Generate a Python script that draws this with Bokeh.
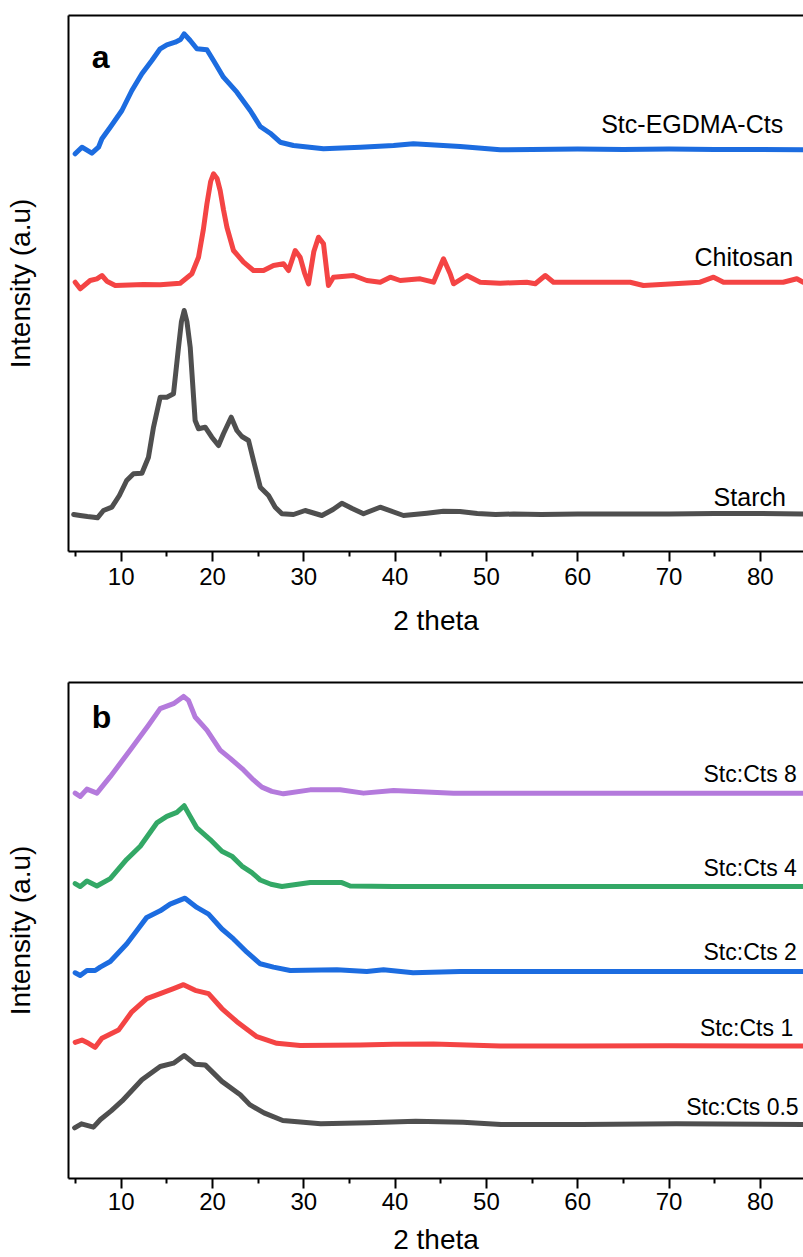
from bokeh.plotting import figure
from bokeh.models import Range1d, FixedTicker, LinearAxis, Label
from bokeh.layouts import column
from bokeh.embed import file_html
from bokeh.resources import INLINE

# ---------------- data: panel a ----------------
tt_egdma = [4.96, 5.7, 6.79, 7.52, 7.89, 8.8, 10.08, 11.17, 12.27, 13.36, 14.27, 15.0, 15.92,
            16.5, 16.9, 17.56, 18.29, 19.39, 20.11, 21.2, 22.67, 24.13, 25.23, 26.32, 27.42, 28.87,
            32.16, 36.2, 39.83, 42.0, 47.13, 51.5, 55, 60, 65, 70, 75, 80, 84.7]
int_egdma = [397.7, 404.3, 398.3, 404.3, 412.7, 424.3, 441, 461, 477.7, 491, 502.7, 506.7, 509.3,
             512, 517.7, 511, 502.7, 501.7, 491, 474.3, 459.3, 441, 425, 418.3, 409.3, 406,
             402.7, 404.3, 406, 407.7, 405, 401.7, 402, 402.5, 402, 402.5, 402, 402, 401.7]

tt_chitosan = [4.96, 5.51, 6.6, 7.34, 7.89, 8.43, 9.35, 12.45, 14.27, 16.46, 17.74, 18.47, 19.0,
               19.39, 19.8, 20.11, 20.5, 20.84, 21.2, 21.58, 22.3, 23.4, 24.49, 25.59, 26.68,
               27.78, 28.33, 29.06, 29.6, 30.1, 30.52, 31.1, 31.61, 32.16, 32.7, 33.25, 35.44,
               36.9, 38.37, 39.47, 40.56, 42.75, 44.21, 44.8, 45.3, 46.03, 46.4, 47.86, 49.32,
               51.5, 54.42, 55.35, 56.45, 57.35, 61.0, 65.75, 67.2, 73.4, 74.88, 75.97, 82.5,
               84.0, 84.7]
int_chitosan = [269.3, 262.7, 271, 272.7, 276, 270.3, 266, 267, 266.7, 268.3, 277.7, 294.3, 322,
                347.7, 370, 377.7, 373, 361, 342, 324.3, 301, 289.3, 281, 281, 286,
                287.7, 281, 301, 294.3, 278, 267.7, 300, 314.3, 307.7, 266, 274.3, 276,
                271, 269.3, 274.3, 271, 272.7, 269.3, 282, 292.7, 277.7, 267.7, 276, 269.3,
                268.3, 269.3, 267.7, 276, 269.3, 269.3, 269.3, 266, 269.3, 274.3, 269.3, 269.3,
                272.7, 269.3]

tt_starch = [4.8, 5.5, 6.3, 7.0, 7.4, 8.06, 8.98, 9.8, 10.6, 11.35, 12.27, 12.99, 13.54, 14.27,
             15.0, 15.73, 16.28, 16.6, 16.9, 17.2, 17.56, 18.1, 18.47, 19.2, 19.93, 20.66, 21.2,
             22.05, 22.67, 23.22, 23.95, 24.49, 25.23, 26.14, 26.87, 27.6, 28.87, 30.15, 31.98,
             33.2, 34.17, 35.3, 36.54, 38.36, 40.92, 43.48, 45.3, 47.1, 49, 51, 53, 56, 60, 65,
             70, 75, 80, 84.7]
int_starch = [37, 36, 35, 34.3, 33.7, 41, 44.3, 56, 71, 77.7, 78.3, 94.3, 124.3, 154.3,
              154.3, 157.7, 204.3, 230, 241, 230, 204.3, 131, 122.7, 124.3, 114.3, 106, 117.7,
              134.3, 121, 115, 111, 91, 64.3, 56, 44.3, 37.7, 37, 41, 36,
              42, 48.3, 43, 37.7, 44.3, 36, 38.3, 40.3, 40, 38, 37, 37.5, 37, 37.5, 37.5,
              37.5, 38, 38, 37.5]

# ---------------- data: panel b ----------------
tt_r8 = [4.96, 5.51, 6.25, 7.34, 8.8, 10.99, 12.99, 14.27, 15.73, 16.83, 17.37, 18.1, 19.39,
         20.84, 21.94, 23.4, 24.49, 25.41, 26.5, 27.78, 30.7, 33.98, 36.54, 39.83, 46.4, 55, 65,
         75, 84.7]
int_r8 = [387.7, 384.3, 391.7, 387.7, 404.3, 431, 456, 472.7, 477.7, 485, 481, 464.3, 451,
          431, 422.7, 411, 401, 393.7, 389.5, 387, 391, 391, 387.7, 390.3, 387.7, 387.5, 387.5,
          387.5, 387.5]

tt_r4 = [4.96, 5.51, 6.25, 7.34, 8.8, 10.6, 12.09, 13.9, 15.0, 16.1, 16.9, 17.56, 18.29, 19.75,
         21.03, 22.12, 23.22, 24.31, 25.23, 26.4, 27.6, 30.7, 34.17, 35.08, 39.83, 47.13, 60,
         70, 84.7]
int_r4 = [296.7, 293.7, 299.3, 294.3, 301.7, 321, 334.3, 357.7, 364.3, 368.3, 375, 364.3, 352.7,
          341, 329.3, 324.3, 314.3, 307.7, 300.3, 296, 293.7, 297.7, 297.7, 294.3, 293.7, 293.7,
          293.7, 293.7, 293.7]

tt_r2 = [4.96, 5.51, 6.25, 7.15, 7.7, 8.8, 10.6, 11.7, 12.8, 14.27, 15.36, 16.99, 18.29, 19.57,
         21.03, 22.3, 23.77, 25.23, 26.68, 28.51, 33.62, 36.9, 38.73, 41.97, 47.13, 60, 70, 84.7]
int_r2 = [207, 204.3, 209.3, 209.3, 212.7, 218.3, 236, 249.3, 262.7, 269.3, 276, 282, 272.7,
          266, 251, 241, 227.7, 216, 212.7, 209.3, 210, 208.3, 210, 207, 208.3, 208.3, 208.3,
          208.3]

tt_r1 = [4.96, 5.7, 6.42, 7.15, 7.89, 9.71, 11.17, 12.8, 14.27, 15.73, 16.83, 18.1, 19.57, 21.03,
         22.67, 24.86, 27.05, 29.6, 36.17, 39.83, 44.2, 51.5, 60, 70, 84.7]
int_r1 = [137, 139.3, 136, 132, 141, 149.3, 167.7, 181, 186, 191, 195, 189.3, 186, 171,
          157.7, 142.7, 136, 133.7, 134.3, 135, 135.3, 133.3, 133.3, 133.5, 133.3]

tt_r05 = [4.9, 5.65, 6.96, 7.73, 8.9, 10.1, 12.27, 14.27, 15.73, 16.9, 18.1, 19.2, 21.03, 23.04,
          24.08, 25.64, 27.7, 31.86, 37.04, 42.25, 47.44, 51.6, 60.4, 70.8, 84.7]
int_r05 = [51, 55, 51.7, 59.3, 68, 78, 99.3, 112.7, 116, 123.7, 115, 114.3, 97.7, 84.3,
           74.3, 66, 58.3, 55, 56, 57.7, 56.7, 54.3, 54.3, 55, 54.3]

x_major_ticks = [10, 20, 30, 40, 50, 60, 70, 80]
x_minor_ticks = [5, 15, 25, 35, 45, 55, 65, 75, 85]

series_a = [("Starch", tt_starch, int_starch, "#4f4f4f"),
            ("Chitosan", tt_chitosan, int_chitosan, "#f44444"),
            ("Stc-EGDMA-Cts", tt_egdma, int_egdma, "#1c6ce0")]
labels_a = [("Stc-EGDMA-Cts", 82.5, 428), ("Chitosan", 83.6, 295), ("Starch", 82.8, 55)]

series_b = [("Stc:Cts 0.5", tt_r05, int_r05, "#4f4f4f"),
            ("Stc:Cts 1", tt_r1, int_r1, "#f44444"),
            ("Stc:Cts 2", tt_r2, int_r2, "#1c6ce0"),
            ("Stc:Cts 4", tt_r4, int_r4, "#33a866"),
            ("Stc:Cts 8", tt_r8, int_r8, "#b47adc")]
labels_b = [("Stc:Cts 8", 84.0, 407), ("Stc:Cts 4", 84.0, 312), ("Stc:Cts 2", 84.0, 228),
            ("Stc:Cts 1", 83.6, 151), ("Stc:Cts 0.5", 84.2, 72)]

FONT = "Liberation Sans"
XMIN, XMAX = 4.23, 84.73


def make_panel(height, top, bottom, ymax, series, labels, letter, letter_y,
               label_size, tick_standoff, axis_standoff):
    p = figure(width=803, height=height,
               x_range=Range1d(XMIN, XMAX), y_range=Range1d(0, ymax),
               output_backend="svg", toolbar_location=None,
               x_axis_location=None, y_axis_location=None,
               min_border_left=68, min_border_right=0,
               min_border_top=top, min_border_bottom=bottom,
               outline_line_color=None, background_fill_color="white",
               border_fill_color="white")
    p.grid.visible = False

    xa = LinearAxis(ticker=FixedTicker(ticks=x_major_ticks, minor_ticks=x_minor_ticks))
    xa.axis_label = "2 theta"
    xa.axis_label_text_font = FONT
    xa.axis_label_text_font_size = "28px"
    xa.axis_label_text_font_style = "normal"
    xa.axis_label_text_color = "black"
    xa.axis_label_standoff = axis_standoff
    xa.major_label_text_font = FONT
    xa.major_label_text_font_size = "24px"
    xa.major_label_text_color = "black"
    xa.major_label_standoff = tick_standoff
    xa.axis_line_width = 2
    xa.axis_line_color = "black"
    xa.major_tick_line_width = 2
    xa.major_tick_line_color = "black"
    xa.minor_tick_line_width = 2
    xa.minor_tick_line_color = "black"
    xa.major_tick_in = 0
    xa.major_tick_out = 10
    xa.minor_tick_in = 0
    xa.minor_tick_out = 5
    p.add_layout(xa, "below")

    ya = LinearAxis(ticker=FixedTicker(ticks=[]))
    ya.axis_label = "Intensity (a.u)"
    ya.axis_label_text_font = FONT
    ya.axis_label_text_font_size = "28px"
    ya.axis_label_text_font_style = "normal"
    ya.axis_label_text_color = "black"
    ya.axis_label_standoff = 33
    ya.axis_line_width = 2
    ya.axis_line_color = "black"
    ya.major_tick_line_color = None
    ya.minor_tick_line_color = None
    ya.major_label_text_font_size = "0px"
    p.add_layout(ya, "left")

    ta = LinearAxis(ticker=FixedTicker(ticks=[]))
    ta.axis_line_width = 2
    ta.axis_line_color = "black"
    ta.major_tick_line_color = None
    ta.minor_tick_line_color = None
    ta.major_label_text_font_size = "0px"
    p.add_layout(ta, "above")

    for name, xs, ys, color in series:
        p.line(xs, ys, line_color=color, line_width=5, line_join="round", line_cap="round")

    for text, lx, ly in labels:
        p.add_layout(Label(x=lx, y=ly, text=text, text_align="right",
                           text_baseline="alphabetic", text_font=FONT,
                           text_font_size=label_size, text_color="black"))

    p.add_layout(Label(x=6.79, y=letter_y, text=letter, text_align="left",
                       text_baseline="alphabetic", text_font=FONT,
                       text_font_size="32px", text_font_style="bold", text_color="black"))
    return p


pa = make_panel(height=643, top=15, bottom=92, ymax=536, series=series_a, labels=labels_a,
                letter="a", letter_y=495, label_size="25px", tick_standoff=6, axis_standoff=17)
pb = make_panel(height=614, top=39, bottom=76, ymax=499, series=series_b, labels=labels_b,
                letter="b", letter_y=464, label_size="23px", tick_standoff=4, axis_standoff=11)

layout = column(pa, pb, spacing=0)
open("out.html", "w").write(file_html(layout, INLINE))
